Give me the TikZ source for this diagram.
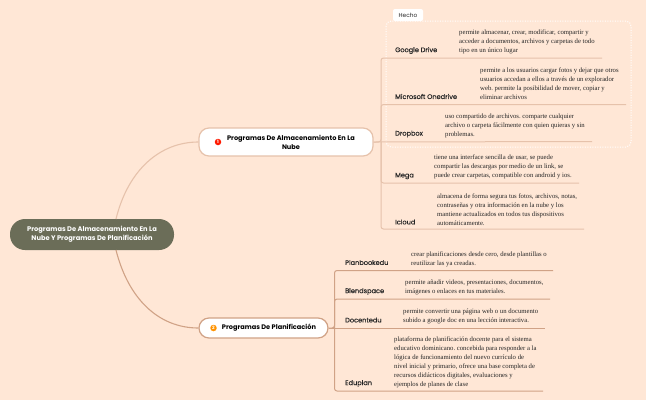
\documentclass[tikz,border=0pt]{standalone}
\usepackage{fontspec}
\setmainfont{Poppins}
\newfontfamily\bodyserif{Liberation Serif}
\newfontfamily\leaffont[FakeBold=0.2]{Poppins}
\definecolor{bgc}{HTML}{FFE7D6}
\definecolor{rootc}{HTML}{6B6D58}
\definecolor{lineA}{HTML}{E6C2AB}
\definecolor{lineB}{HTML}{D0A286}
\tikzset{
  rootnode/.style={fill=rootc,rounded corners=15pt,minimum width=164pt,minimum height=31pt,inner sep=0pt,align=center,text=white,font=\fontsize{6.7}{8.7}\selectfont\bfseries},
  mainA/.style={draw=lineA,line width=1.2pt,fill=white,rounded corners=10pt,inner sep=0pt,align=center,font=\fontsize{6.6}{9}\selectfont\bfseries},
  mainB/.style={draw=lineB,line width=1.2pt,fill=white,rounded corners=10pt,inner sep=0pt,align=center,font=\fontsize{6.6}{9}\selectfont\bfseries},
  leaflabel/.style={anchor=west,inner sep=0pt,text=black!85,font=\leaffont\fontsize{6.6}{7.5}\selectfont},
  desc/.style={anchor=west,inner sep=0pt,align=left,text=black!85,font=\bodyserif\frenchspacing\fontsize{6.7}{9}\selectfont},
  connA/.style={draw=lineA,line width=1pt,rounded corners=2.5pt},
  connB/.style={draw=lineB,line width=1pt,rounded corners=2.5pt},
  badge/.style={circle,inner sep=0pt,minimum size=6.5pt,text=white,font=\fontsize{4.5}{5}\selectfont\bfseries},
}
\begin{document}
\begin{tikzpicture}[x=1pt,y=-1pt]
\useasboundingbox[fill=bgc] (0,0) rectangle (646,400);
% dotted frame and tag
\draw[white,line width=1pt,dash pattern=on 1pt off 1.5pt,rounded corners=5pt] (386,21) rectangle (631,147);
\node[fill=white,rounded corners=2pt,minimum width=30pt,minimum height=12pt,inner sep=0pt,font=\fontsize{5.8}{7}\selectfont,text=black!85] (tag) at (408,15) {Hecho};
% main nodes
\node[rootnode] (root) at (92,234.5) {Programas De Almacenamiento En La\\Nube Y Programas De Planificación};
\node[mainA,minimum width=174pt,minimum height=28pt] (m1) at (286,142) {};
\node[inner sep=0pt,mainA,draw=none,fill=none] (m1t) at (291,142) {Programas De Almacenamiento En La\\Nube};
\node[badge,fill=red!80!orange] (b1) at (218,142) {1};
\node[mainB,minimum width=129pt,minimum height=20pt] (m2) at (263.5,328) {};
\node[inner sep=0pt,mainB,draw=none,fill=none] (m2t) at (269,328) {Programas De Planificación};
\node[badge,fill=orange!85!yellow] (b2) at (213.5,328) {2};
% trunks and free ends
\coordinate (ta) at (381,142);
\coordinate (tb) at (334.5,328);
\coordinate (e1) at (602,58);
\coordinate (e2) at (626,104.5);
\coordinate (e3) at (592,141.5);
\coordinate (e4) at (579,183);
\coordinate (e5) at (584,229);
\coordinate (f1) at (553,270.5);
\coordinate (f2) at (550,299);
\coordinate (f3) at (545,328);
\coordinate (f4) at (543,391);
% root connectors
\draw[lineA,line width=1.1pt] (116,219) .. controls (128,170) and (160,142) .. (m1.west);
\draw[lineB,line width=1.1pt] (116,250) .. controls (128,298) and (158,328) .. (m2.west);
% top branches
\draw[connA] (m1.east) -- (ta) |- (e1);
\draw[connA] (ta) |- (e2);
\draw[connA] (m1.east) -- (e3);
\draw[connA] (ta) |- (e4);
\draw[connA] (ta) |- (e5);
% bottom branches
\draw[connB] (m2.east) -- (tb) |- (f1);
\draw[connB] (tb) |- (f2);
\draw[connB] (m2.east) -- (f3);
\draw[connB] (tb) |- (f4);
% leaf labels
\node[leaflabel] (l1) at (395,50.5) {Google Drive};
\node[leaflabel] (l2) at (395,96.5) {Microsoft Onedrive};
\node[leaflabel] (l3) at (395,134) {Dropbox};
\node[leaflabel] (l4) at (395,176) {Mega};
\node[leaflabel] (l5) at (395,222) {Icloud};
\node[leaflabel] (k1) at (345,262.5) {Planbookedu};
\node[leaflabel] (k2) at (345,291.5) {Blendspace};
\node[leaflabel] (k3) at (345,320) {Docentedu};
\node[leaflabel] (k4) at (345,383.5) {Eduplan};
% descriptions
\node[desc] (d1) at (459,42) {permite almacenar, crear, modificar, compartir y\\acceder a documentos, archivos y carpetas de todo\\tipo en un único lugar};
\node[desc] (d2) at (480,84) {permite a los usuarios cargar fotos y dejar que otros\\usuarios accedan a ellos a través de un explorador\\web. permite la posibilidad de mover, copiar y\\eliminar archivos};
\node[desc] (d3) at (445,125.5) {uso compartido de archivos. comparte cualquier\\archivo o carpeta fácilmente con quien quieras y sin\\problemas.};
\node[desc] (d4) at (434,167) {tiene una interface sencilla de usar, se puede\\compartir las descargas por medio de un link, se\\puede crear carpetas, compatible con android y ios.};
\node[desc] (d5) at (437,209.5) {almacena de forma segura tus fotos, archivos, notas,\\contraseñas y otra información en la nube y los\\mantiene actualizados en todos tus dispositivos\\automáticamente.};
\node[desc] (c1) at (411,259) {crear planificaciones desde cero, desde plantillas o\\reutilizar las ya creadas.};
\node[desc] (c2) at (405,287.5) {permite añadir videos, presentaciones, documentos,\\imágenes o enlaces en tus materiales.};
\node[desc] (c3) at (403,316) {permite convertir una página web o un documento\\subido a google doc en una lección interactiva.};
\node[desc] (c4) at (394,362) {plataforma de planificación docente para el sistema\\educativo dominicano. concebida para responder a la\\lógica de funcionamiento del nuevo currículo de\\nivel inicial y primario, ofrece una base completa de\\recursos didácticos digitales, evaluaciones y\\ejemplos de planes de clase};
\end{tikzpicture}
\end{document}
